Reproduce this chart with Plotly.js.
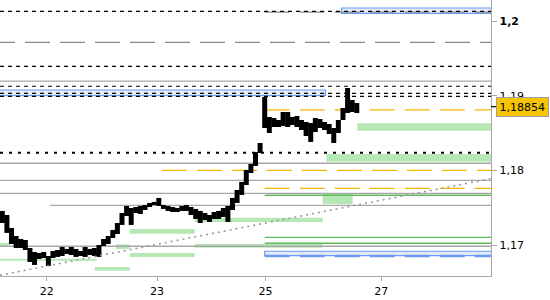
<!DOCTYPE html>
<html><head><meta charset="utf-8">
<script src="https://cdn.plot.ly/plotly-3.0.1.min.js"></script>
<style>html,body{margin:0;padding:0;background:#fff}#chart{width:550px;height:300px}</style>
</head><body><div id="chart"></div>
<script>
// Hourly bars (high / low)
const barHigh = [1.17459,1.17405,1.17231,1.17124,1.17084,1.17071,1.16964,1.16910,1.16897,1.16910,
  1.16857,1.16924,1.16937,1.16977,1.16951,1.16977,1.16951,1.16924,1.16977,1.16951,
  1.16964,1.17004,1.17084,1.17124,1.17205,1.17298,1.17432,1.17526,1.17499,1.17512,
  1.17526,1.17539,1.17566,1.17580,1.17633,1.17539,1.17526,1.17512,1.17499,1.17526,
  1.17539,1.17512,1.17486,1.17459,1.17432,1.17405,1.17445,1.17459,1.17499,1.17526,
  1.17633,1.17740,1.17847,1.18007,1.18087,1.18248,1.18368,1.18983,1.18716,1.18703,
  1.18676,1.18783,1.18783,1.18716,1.18729,1.18676,1.18649,1.18636,1.18703,1.18689,
  1.18649,1.18622,1.18569,1.18676,1.18836,1.19104,1.18943,1.18903];
const barLow = [1.17298,1.17165,1.17017,1.16964,1.16964,1.16937,1.16777,1.16737,1.16817,1.16830,
  1.16723,1.16830,1.16844,1.16857,1.16884,1.16870,1.16844,1.16857,1.16844,1.16870,
  1.16857,1.16844,1.16991,1.17017,1.17098,1.17151,1.17272,1.17392,1.17272,1.17432,
  1.17419,1.17472,1.17512,1.17539,1.17526,1.17486,1.17459,1.17445,1.17445,1.17459,
  1.17459,1.17405,1.17352,1.17298,1.17338,1.17312,1.17352,1.17352,1.17379,1.17312,
  1.17472,1.17566,1.17673,1.17806,1.17967,1.18061,1.18234,1.18569,1.18502,1.18582,
  1.18582,1.18596,1.18582,1.18609,1.18582,1.18542,1.18462,1.18382,1.18515,1.18569,
  1.18542,1.18489,1.18368,1.18502,1.18676,1.18769,1.18783,1.18769];
const lastPrice = 1.18854;

const dayTickPos = [10.13, 34.13, 57.66, 82.83];
const dayTickText = ['22', '23', '25', '27'];
const priceTickVals = [1.17, 1.18, 1.19, 1.2];
const priceTickText = ['1,17', '1,18', '1,19', '<b>1,2</b>'];

// horizontal levels
const greySolidLevels = [1.19197, 1.18097, 1.17869, 1.17695, 1.16987, 1.17535];
const greySolidFrom   = [0, 0, 0, 0, 0, 10.85];
const blackDashLevels = [1.20130, 1.19394, 1.19127, 1.19033, 1.18993];
const greyLongDashLevels = [1.19715, 1.20118];
const greyLongDashFrom   = [-2.17, 57.5];
const blackDotLevels = [1.18238];
const orangeLevels = [1.18810, 1.18003, 1.17762];
const orangeFrom   = [57.5, 35.16, 57.5];
const greenLineLevels = [1.17669, 1.17107, 1.17027];
const greenLineFrom   = [57.5, 57.5, 57.5];
const blueDashLevels = [1.16857];
const blueDashFrom   = [57.5];

// zones
const greenZoneFrom = [77.6, 70.9, 70.1, 42.3, 28.2, -1, 25.2, 42.3, -1, 28.2, 20.6];
const greenZoneTo   = [107, 107, 76.6, 70.1, 42.3, 2.17, 28.2, 70.1, 21.0, 42.3, 28.2];
const greenZoneLow  = [1.18533, 1.18118, 1.17552, 1.17312, 1.17155, 1.16991, 1.16951, 1.16968, 1.16794, 1.16844, 1.16660];
const greenZoneHigh = [1.18632, 1.18221, 1.17695, 1.17369, 1.17218, 1.17031, 1.17013, 1.17017, 1.16821, 1.16897, 1.16710];
const blueZoneFrom = [74.2, -1, 57.5];
const blueZoneTo   = [107, 70.7, 107];
const blueZoneLow  = [1.20103, 1.19001, 1.16861];
const blueZoneHigh = [1.20174, 1.19077, 1.16920];

const trendHours  = [0, 106.66];
const trendPrices = [1.16599, 1.17892];

const xEnd = 106.66;
const hours = barHigh.map((_, i) => i + 0.5);

const shapes = [];
function hline(y, x0, color, width, dash) {
  shapes.push({type: 'line', xref: 'x', yref: 'y', x0: x0, x1: 107, y0: y, y1: y,
    line: {color: color, width: width, dash: dash}, layer: 'below'});
}
greenZoneFrom.forEach((x0, i) => shapes.push({type: 'rect', xref: 'x', yref: 'y', x0: x0, x1: greenZoneTo[i],
  y0: greenZoneLow[i], y1: greenZoneHigh[i], fillcolor: '#b5e8b5', line: {width: 0}, layer: 'below'}));
blueZoneFrom.forEach((x0, i) => shapes.push({type: 'rect', xref: 'x', yref: 'y', x0: x0, x1: blueZoneTo[i],
  y0: blueZoneLow[i], y1: blueZoneHigh[i], fillcolor: '#e2eaf8', line: {width: 1.2, color: '#6a9bef'}, layer: 'below'}));
greySolidLevels.forEach((y, i) => hline(y, greySolidFrom[i], '#a8a8a8', 1.3, 'solid'));
greyLongDashLevels.forEach((y, i) => hline(y, greyLongDashFrom[i], '#8a8a8a', 1.3, '25px,10px'));
blackDashLevels.forEach(y => hline(y, 0, '#000000', 1.2, '4px,4px'));
blackDotLevels.forEach(y => hline(y, 0, '#000000', 2.2, '3px,6px'));
orangeLevels.forEach((y, i) => hline(y, orangeFrom[i], '#f7b500', 1.3, '25px,10px'));
greenLineLevels.forEach((y, i) => hline(y, greenLineFrom[i], '#5cbc5c', 1.3, 'solid'));
blueDashLevels.forEach((y, i) => hline(y, blueDashFrom[i], '#6a9bef', 2.4, '25px,10px'));
shapes.push({type: 'line', xref: 'paper', yref: 'y', x0: 1, x1: 1.011, y0: lastPrice, y1: lastPrice,
  line: {color: '#000', width: 1.2}, layer: 'above'});

const traces = [
  {type: 'scatter', mode: 'lines', x: trendHours, y: trendPrices,
   line: {color: '#999999', width: 1.6, dash: '2px,4px'}, hoverinfo: 'skip', showlegend: false},
  {type: 'ohlc', x: hours, open: barHigh, high: barHigh, low: barLow, close: barLow,
   tickwidth: 0, line: {width: 5},
   increasing: {line: {color: '#000000', width: 5}},
   decreasing: {line: {color: '#000000', width: 5}},
   hoverinfo: 'skip', showlegend: false}
];

const layout = {
  width: 550, height: 300,
  margin: {l: 0, r: 58.5, t: 0, b: 24},
  paper_bgcolor: '#ffffff', plot_bgcolor: '#ffffff',
  showlegend: false, hovermode: false,
  font: {family: 'DejaVu Sans, Verdana, sans-serif', size: 11, color: '#000'},
  xaxis: {type: 'linear', range: [0, xEnd], showgrid: false, zeroline: false,
    showline: true, linecolor: '#a8a8a8', linewidth: 1.3,
    ticks: 'outside', ticklen: 4, tickcolor: '#a8a8a8',
    tickvals: dayTickPos, ticktext: dayTickText, tickfont: {size: 11},
    rangeslider: {visible: false}, fixedrange: true},
  yaxis: {side: 'right', range: [1.16589, 1.20281], showgrid: false, zeroline: false,
    showline: true, linecolor: '#a8a8a8', linewidth: 1.3,
    ticks: 'outside', ticklen: 5, tickcolor: '#a8a8a8',
    tickvals: priceTickVals, ticktext: priceTickText, tickfont: {size: 11}, fixedrange: true},
  shapes: shapes,
  annotations: [{xref: 'paper', yref: 'y', x: 1, y: lastPrice, xanchor: 'left', yanchor: 'middle',
    xshift: 5, text: '1,18854', showarrow: false, bgcolor: '#f6c400', bordercolor: '#a0a0a0',
    borderwidth: 1, borderpad: 2.5, font: {size: 11, color: '#000'}}]
};

Plotly.newPlot('chart', traces, layout, {staticPlot: true, displayModeBar: false});
</script>
</body></html>
